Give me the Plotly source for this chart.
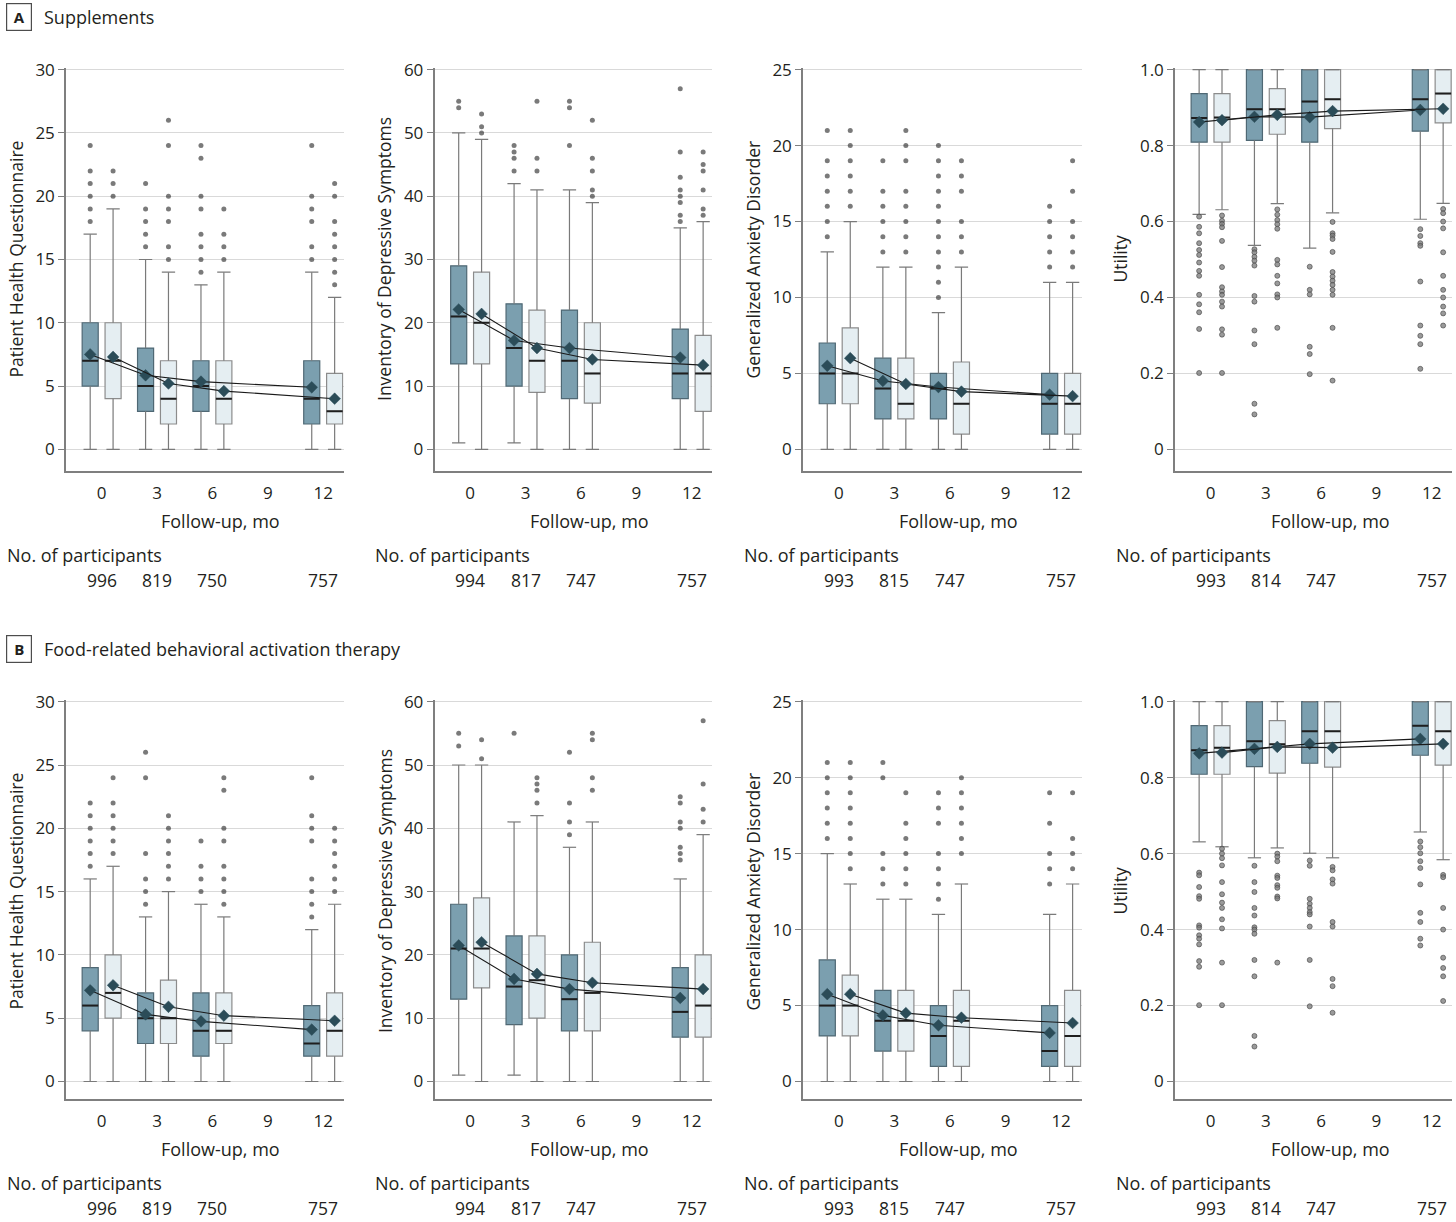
import plotly.graph_objects as go

W, H = 1456, 1222
FONT = "Open Sans"
TXT = "#231f20"

months = [0, 3, 6, 12]
xtick_vals = [0, 3, 6, 9, 12]
row_letters = ["A", "B"]
row_titles = ["Supplements", "Food-related behavioral activation therapy"]
y_titles = ["Patient Health Questionnaire", "Inventory of Depressive Symptoms",
            "Generalized Anxiety Disorder", "Utility"]
y_max = [30, 60, 25, 1.0]
y_dtick = [5, 10, 5, 0.2]
participants = [[996, 819, 750, 757], [994, 817, 747, 757],
                [993, 815, 747, 757], [993, 814, 747, 757]]

# ---------------- Row A: Supplements ----------------
# A1 Patient Health Questionnaire
A1_d_low = [0, 0, 0, 0]
A1_d_q1 = [5, 3, 3, 2]
A1_d_med = [7, 5, 5, 4]
A1_d_q3 = [10, 8, 7, 7]
A1_d_high = [17, 15, 13, 14]
A1_d_mean = [7.5, 5.85, 5.35, 4.9]
A1_d_out = [[18, 19, 20, 21, 22, 24], [16, 17, 18, 19, 21],
            [14, 15, 16, 17, 19, 20, 23, 24], [15, 16, 18, 19, 20, 24]]
A1_l_low = [0, 0, 0, 0]
A1_l_q1 = [4, 2, 2, 2]
A1_l_med = [7, 4, 4, 3]
A1_l_q3 = [10, 7, 7, 6]
A1_l_high = [19, 14, 14, 12]
A1_l_mean = [7.3, 5.2, 4.6, 4.0]
A1_l_out = [[20, 21, 22], [15, 16, 18, 19, 20, 24, 26],
            [15, 16, 17, 19], [13, 14, 15, 16, 17, 18, 20, 21]]

# A2 Inventory of Depressive Symptoms
A2_d_low = [1, 1, 0, 0]
A2_d_q1 = [13.5, 10, 8, 8]
A2_d_med = [21, 16, 14, 12]
A2_d_q3 = [29, 23, 22, 19]
A2_d_high = [50, 42, 41, 35]
A2_d_mean = [22.1, 17.2, 16.0, 14.5]
A2_d_out = [[54, 55], [44, 46, 47, 48], [48, 54, 55],
            [36, 37, 39, 40, 41, 43, 47, 57]]
A2_l_low = [0, 0, 0, 0]
A2_l_q1 = [13.5, 9, 7.3, 6]
A2_l_med = [20, 14, 12, 12]
A2_l_q3 = [28, 22, 20, 18]
A2_l_high = [49, 41, 39, 36]
A2_l_mean = [21.4, 16.0, 14.2, 13.3]
A2_l_out = [[50, 51, 53], [44, 46, 55], [40, 41, 44, 46, 52],
            [37, 38, 41, 44, 45, 47]]

# A3 Generalized Anxiety Disorder
A3_d_low = [0, 0, 0, 0]
A3_d_q1 = [3, 2, 2, 1]
A3_d_med = [5, 4, 4, 3]
A3_d_q3 = [7, 6, 5, 5]
A3_d_high = [13, 12, 9, 11]
A3_d_mean = [5.5, 4.5, 4.1, 3.6]
A3_d_out = [[14, 15, 16, 17, 18, 19, 21], [13, 14, 15, 16, 17, 19],
            [10, 11, 12, 13, 14, 15, 16, 17, 18, 19, 20], [12, 13, 14, 15, 16]]
A3_l_low = [0, 0, 0, 0]
A3_l_q1 = [3, 2, 1, 1]
A3_l_med = [5, 3, 3, 3]
A3_l_q3 = [8, 6, 5.75, 5]
A3_l_high = [15, 12, 12, 11]
A3_l_mean = [6.0, 4.3, 3.8, 3.5]
A3_l_out = [[16, 17, 18, 19, 20, 21], [13, 14, 15, 16, 17, 19, 20, 21],
            [13, 14, 15, 17, 18, 19], [12, 13, 14, 15, 17, 19]]

# A4 Utility
A4_d_low = [0.619, 0.537, 0.530, 0.606]
A4_d_q1 = [0.809, 0.814, 0.809, 0.838]
A4_d_med = [0.873, 0.896, 0.916, 0.922]
A4_d_q3 = [0.937, 1.0, 1.0, 1.0]
A4_d_high = [1.0, 1.0, 1.0, 1.0]
A4_d_mean = [0.862, 0.876, 0.875, 0.894]
A4_d_out = [[0.613, 0.586, 0.569, 0.543, 0.525, 0.512, 0.492, 0.47, 0.457, 0.407,
             0.382, 0.361, 0.317, 0.201],
            [0.527, 0.519, 0.507, 0.497, 0.484, 0.404, 0.389, 0.313, 0.277, 0.12, 0.092],
            [0.481, 0.42, 0.408, 0.27, 0.251, 0.198],
            [0.58, 0.562, 0.543, 0.536, 0.442, 0.326, 0.299, 0.277, 0.212]]
A4_l_low = [0.631, 0.647, 0.623, 0.648]
A4_l_q1 = [0.809, 0.83, 0.845, 0.86]
A4_l_med = [0.874, 0.896, 0.922, 0.937]
A4_l_q3 = [0.937, 0.95, 1.0, 1.0]
A4_l_high = [1.0, 1.0, 1.0, 1.0]
A4_l_mean = [0.867, 0.881, 0.891, 0.897]
A4_l_out = [[0.616, 0.602, 0.594, 0.585, 0.549, 0.48, 0.427, 0.416, 0.407, 0.389,
             0.376, 0.316, 0.302, 0.201],
            [0.632, 0.618, 0.604, 0.593, 0.581, 0.499, 0.487, 0.457, 0.437, 0.408,
             0.4, 0.32],
            [0.599, 0.569, 0.563, 0.554, 0.52, 0.467, 0.455, 0.444, 0.433, 0.42,
             0.407, 0.32, 0.181],
            [0.633, 0.622, 0.6, 0.582, 0.519, 0.457, 0.42, 0.4, 0.376, 0.358, 0.326]]

# ---------------- Row B: Food-related behavioral activation therapy ----------------
B1_d_low = [0, 0, 0, 0]
B1_d_q1 = [4, 3, 2, 2]
B1_d_med = [6, 5, 4, 3]
B1_d_q3 = [9, 7, 7, 6]
B1_d_high = [16, 13, 14, 12]
B1_d_mean = [7.2, 5.3, 4.75, 4.1]
B1_d_out = [[17, 18, 19, 20, 21, 22], [14, 15, 16, 18, 24, 26],
            [15, 16, 17, 19], [13, 14, 15, 16, 19, 20, 21, 24]]
B1_l_low = [0, 0, 0, 0]
B1_l_q1 = [5, 3, 3, 2]
B1_l_med = [7, 5, 4, 4]
B1_l_q3 = [10, 8, 7, 7]
B1_l_high = [17, 15, 13, 14]
B1_l_mean = [7.6, 5.9, 5.2, 4.8]
B1_l_out = [[18, 19, 20, 21, 22, 24], [16, 17, 18, 19, 20, 21],
            [14, 15, 16, 17, 19, 20, 23, 24], [15, 16, 17, 18, 19, 20]]

B2_d_low = [1, 1, 0, 0]
B2_d_q1 = [13, 9, 8, 7]
B2_d_med = [21, 15, 13, 11]
B2_d_q3 = [28, 23, 20, 18]
B2_d_high = [50, 41, 37, 32]
B2_d_mean = [21.5, 16.2, 14.6, 13.2]
B2_d_out = [[53, 55], [55], [39, 41, 44, 52], [35, 36, 37, 40, 41, 44, 45]]
B2_l_low = [0, 0, 0, 0]
B2_l_q1 = [14.8, 10, 8, 7]
B2_l_med = [21, 16, 14, 12]
B2_l_q3 = [29, 23, 22, 20]
B2_l_high = [50, 42, 41, 39]
B2_l_mean = [22.0, 17.0, 15.6, 14.6]
B2_l_out = [[51, 54], [44, 46, 47, 48], [46, 48, 54, 55], [41, 43, 47, 57]]

B3_d_low = [0, 0, 0, 0]
B3_d_q1 = [3, 2, 1, 1]
B3_d_med = [5, 4, 3, 2]
B3_d_q3 = [8, 6, 5, 5]
B3_d_high = [15, 12, 11, 11]
B3_d_mean = [5.75, 4.35, 3.7, 3.2]
B3_d_out = [[16, 17, 18, 19, 20, 21], [13, 14, 15, 20, 21],
            [12, 13, 14, 15, 17, 18, 19], [13, 14, 15, 17, 19]]
B3_l_low = [0, 0, 0, 0]
B3_l_q1 = [3, 2, 1, 1]
B3_l_med = [5, 4, 4, 3]
B3_l_q3 = [7, 6, 6, 6]
B3_l_high = [13, 12, 13, 13]
B3_l_mean = [5.75, 4.5, 4.2, 3.85]
B3_l_out = [[14, 15, 16, 17, 18, 19, 20, 21], [13, 14, 15, 16, 17, 19],
            [15, 16, 17, 18, 19, 20], [14, 15, 16, 19]]

B4_d_low = [0.631, 0.589, 0.601, 0.657]
B4_d_q1 = [0.809, 0.829, 0.838, 0.859]
B4_d_med = [0.872, 0.896, 0.922, 0.937]
B4_d_q3 = [0.937, 1.0, 1.0, 1.0]
B4_d_high = [1.0, 1.0, 1.0, 1.0]
B4_d_mean = [0.864, 0.876, 0.889, 0.902]
B4_d_out = [[0.55, 0.543, 0.512, 0.488, 0.481, 0.411, 0.405, 0.385, 0.376, 0.361,
             0.317, 0.302, 0.201],
            [0.568, 0.525, 0.499, 0.457, 0.437, 0.406, 0.4, 0.389, 0.32, 0.277,
             0.12, 0.092],
            [0.582, 0.568, 0.481, 0.468, 0.457, 0.446, 0.44, 0.408, 0.32, 0.198],
            [0.632, 0.617, 0.601, 0.58, 0.562, 0.519, 0.444, 0.42, 0.376, 0.358]]
B4_l_low = [0.618, 0.615, 0.589, 0.584]
B4_l_q1 = [0.809, 0.812, 0.828, 0.833]
B4_l_med = [0.879, 0.888, 0.922, 0.922]
B4_l_q3 = [0.937, 0.95, 1.0, 1.0]
B4_l_high = [1.0, 1.0, 1.0, 1.0]
B4_l_mean = [0.866, 0.881, 0.879, 0.889]
B4_l_out = [[0.613, 0.6, 0.588, 0.569, 0.525, 0.493, 0.471, 0.457, 0.427, 0.403,
             0.313, 0.201],
            [0.6, 0.592, 0.58, 0.542, 0.536, 0.517, 0.51, 0.487, 0.482, 0.313],
            [0.565, 0.556, 0.532, 0.521, 0.42, 0.408, 0.27, 0.251, 0.181],
            [0.544, 0.538, 0.457, 0.4, 0.326, 0.299, 0.277, 0.212]]

panels = [
    [
        ((A1_d_low, A1_d_q1, A1_d_med, A1_d_q3, A1_d_high, A1_d_mean, A1_d_out),
         (A1_l_low, A1_l_q1, A1_l_med, A1_l_q3, A1_l_high, A1_l_mean, A1_l_out)),
        ((A2_d_low, A2_d_q1, A2_d_med, A2_d_q3, A2_d_high, A2_d_mean, A2_d_out),
         (A2_l_low, A2_l_q1, A2_l_med, A2_l_q3, A2_l_high, A2_l_mean, A2_l_out)),
        ((A3_d_low, A3_d_q1, A3_d_med, A3_d_q3, A3_d_high, A3_d_mean, A3_d_out),
         (A3_l_low, A3_l_q1, A3_l_med, A3_l_q3, A3_l_high, A3_l_mean, A3_l_out)),
        ((A4_d_low, A4_d_q1, A4_d_med, A4_d_q3, A4_d_high, A4_d_mean, A4_d_out),
         (A4_l_low, A4_l_q1, A4_l_med, A4_l_q3, A4_l_high, A4_l_mean, A4_l_out)),
    ],
    [
        ((B1_d_low, B1_d_q1, B1_d_med, B1_d_q3, B1_d_high, B1_d_mean, B1_d_out),
         (B1_l_low, B1_l_q1, B1_l_med, B1_l_q3, B1_l_high, B1_l_mean, B1_l_out)),
        ((B2_d_low, B2_d_q1, B2_d_med, B2_d_q3, B2_d_high, B2_d_mean, B2_d_out),
         (B2_l_low, B2_l_q1, B2_l_med, B2_l_q3, B2_l_high, B2_l_mean, B2_l_out)),
        ((B3_d_low, B3_d_q1, B3_d_med, B3_d_q3, B3_d_high, B3_d_mean, B3_d_out),
         (B3_l_low, B3_l_q1, B3_l_med, B3_l_q3, B3_l_high, B3_l_mean, B3_l_out)),
        ((B4_d_low, B4_d_q1, B4_d_med, B4_d_q3, B4_d_high, B4_d_mean, B4_d_out),
         (B4_l_low, B4_l_q1, B4_l_med, B4_l_q3, B4_l_high, B4_l_mean, B4_l_out)),
    ],
]

# ---------------- layout geometry (pixels) ----------------
col_left = [66, 434.5, 803, 1175]
col_right = [343.5, 712, 1081.5, 1452]
row_top = [69.7, 701.7]      # pixel of top gridline
row_zero = [449.3, 1081.5]   # pixel of y = 0
row_bottom = [471.3, 1098.7]  # pixel of x-axis line
X_RANGE = [-1.93, 13.1]
OFFSET = 0.62
BOX_W = 0.87
CAP_HALF = 0.36

styles = [
    dict(fill="#7b9faf", line="#4f6874"),
    dict(fill="#e5eef2", line="#8c8c8c"),
]
WHISK = "#7a7a7a"
MED = "#1e1e1e"
MEAN_C = "#2b4c58"


def px_x(p):
    return p / W


def px_y(p):
    return 1 - p / H


fig = go.Figure()
annotations = []
layout_axes = {}

idx = 0
for r in range(2):
    for c in range(4):
        idx += 1
        xa = "x" if idx == 1 else f"x{idx}"
        ya = "y" if idx == 1 else f"y{idx}"
        xname = "xaxis" if idx == 1 else f"xaxis{idx}"
        yname = "yaxis" if idx == 1 else f"yaxis{idx}"
        ymx = y_max[c]
        ppu = (row_zero[r] - row_top[r]) / ymx
        pad_px = 2.0
        y_lo = -(row_bottom[r] - row_zero[r]) / ppu
        y_hi = ymx + pad_px / ppu

        for g, (low, q1, med, q3, high, mean, out) in enumerate(panels[r][c]):
            sign = -1 if g == 0 else 1
            pos = [m + sign * OFFSET for m in months]
            st = styles[g]
            fig.add_trace(go.Box(
                x=pos, q1=q1, median=med, q3=q3, lowerfence=q1, upperfence=q3,
                width=BOX_W, fillcolor=st["fill"],
                line=dict(color=st["line"], width=1.2),
                boxpoints=False, showlegend=False, hoverinfo="skip",
                xaxis=xa, yaxis=ya))
            # whiskers and caps
            wx, wy = [], []
            for p, lo, a, b, hi in zip(pos, low, q1, q3, high):
                wx += [p, p, None, p, p, None,
                       p - CAP_HALF, p + CAP_HALF, None, p - CAP_HALF, p + CAP_HALF, None]
                wy += [b, hi, None, a, lo, None, hi, hi, None, lo, lo, None]
            fig.add_trace(go.Scatter(
                x=wx, y=wy, mode="lines", line=dict(color=WHISK, width=1.2),
                showlegend=False, hoverinfo="skip", xaxis=xa, yaxis=ya, cliponaxis=False))
            # medians
            mx, my = [], []
            for p, m in zip(pos, med):
                mx += [p - BOX_W / 2, p + BOX_W / 2, None]
                my += [m, m, None]
            fig.add_trace(go.Scatter(
                x=mx, y=my, mode="lines", line=dict(color=MED, width=2),
                showlegend=False, hoverinfo="skip", xaxis=xa, yaxis=ya))
            # outliers
            ox, oy = [], []
            for p, vals in zip(pos, out):
                ox += [p] * len(vals)
                oy += list(vals)
            if c == 3:
                mk = dict(size=5, color="rgba(120,120,120,0.75)",
                          line=dict(color="rgba(70,70,70,0.8)", width=0.8))
            else:
                mk = dict(size=5, color="rgba(50,50,50,0.65)", line=dict(width=0))
            fig.add_trace(go.Scatter(
                x=ox, y=oy, mode="markers", marker=mk,
                showlegend=False, hoverinfo="skip", xaxis=xa, yaxis=ya))
        # mean lines (drawn last, on top)
        for g, grp in enumerate(panels[r][c]):
            sign = -1 if g == 0 else 1
            pos = [m + sign * OFFSET for m in months]
            fig.add_trace(go.Scatter(
                x=pos, y=grp[5], mode="lines+markers",
                line=dict(color="#1a1a1a", width=1.1),
                marker=dict(symbol="diamond", size=9, color=MEAN_C,
                            line=dict(color=MEAN_C, width=0.5)),
                showlegend=False, hoverinfo="skip", xaxis=xa, yaxis=ya))

        xdom = [px_x(col_left[c]), px_x(col_right[c])]
        ydom = [px_y(row_bottom[r]), px_y(row_top[r] - pad_px)]
        layout_axes[xname] = dict(
            domain=xdom, anchor=ya, range=X_RANGE, tickvals=xtick_vals,
            ticktext=[str(v) for v in xtick_vals],
            showline=True, linecolor="#7f7f7f", linewidth=1.5,
            ticks="outside", ticklen=6, tickcolor="rgba(0,0,0,0)",
            showgrid=False, zeroline=False, automargin=False,
            tickfont=dict(family=FONT, size=17, color=TXT))
        if c == 3:
            tv = [0, 0.2, 0.4, 0.6, 0.8, 1.0]
            tt = ["0", "0.2", "0.4", "0.6", "0.8", "1.0"]
        else:
            n = int(round(ymx / y_dtick[c]))
            tv = [k * y_dtick[c] for k in range(n + 1)]
            tt = [str(v) for v in tv]
        layout_axes[yname] = dict(
            domain=ydom, anchor=xa, range=[y_lo, y_hi], tickvals=tv, ticktext=tt,
            showline=True, linecolor="#7f7f7f", linewidth=1.5,
            ticks="outside", ticklen=6, tickcolor="#7f7f7f", tickwidth=1.2,
            showgrid=True, gridcolor="#d9d9d9", gridwidth=1.2, zeroline=False,
            automargin=False,
            tickfont=dict(family=FONT, size=17, color=TXT))

        # y title
        ycenter = (row_top[r] + row_zero[r]) / 2
        yoff = 55 if c == 3 else 50
        annotations.append(dict(
            text=y_titles[c], x=px_x(col_left[c] - yoff), y=px_y(ycenter),
            xref="paper", yref="paper", textangle=-90, showarrow=False,
            xanchor="center", yanchor="middle",
            font=dict(family=FONT, size=17.5, color=TXT)))
        # x title
        annotations.append(dict(
            text="Follow-up, mo", x=px_x(col_left[c] + 155), y=px_y(row_bottom[r] + 50),
            xref="paper", yref="paper", showarrow=False,
            xanchor="center", yanchor="middle",
            font=dict(family=FONT, size=18, color=TXT)))
        # participants
        annotations.append(dict(
            text="No. of participants", x=px_x(col_left[c] - 61), y=px_y(row_bottom[r] + 84),
            xref="paper", yref="paper", showarrow=False,
            xanchor="left", yanchor="middle",
            font=dict(family=FONT, size=18, color=TXT)))
        for m, n in zip(months, participants[c]):
            annotations.append(dict(
                text=str(n), x=m, y=px_y(row_bottom[r] + 109),
                xref=xa, yref="paper", showarrow=False,
                xanchor="center", yanchor="middle",
                font=dict(family=FONT, size=17.5, color=TXT)))

# row headers
row_head_y = [17, 649]
for r in range(2):
    annotations.append(dict(
        text=f"<b>{row_letters[r]}</b>", x=px_x(18.5), y=px_y(row_head_y[r]),
        xref="paper", yref="paper", showarrow=False, xanchor="center", yanchor="middle",
        width=22, height=24, bordercolor="#4d4d4d", borderwidth=1.2, borderpad=1,
        font=dict(family=FONT, size=15, color=TXT)))
    annotations.append(dict(
        text=row_titles[r], x=px_x(42), y=px_y(row_head_y[r]),
        xref="paper", yref="paper", showarrow=False, xanchor="left", yanchor="middle",
        font=dict(family=FONT, size=18, color=TXT)))

fig.update_layout(
    width=W, height=H, autosize=False,
    margin=dict(l=0, r=0, t=0, b=0, pad=0, autoexpand=False),
    paper_bgcolor="white", plot_bgcolor="white",
    showlegend=False, annotations=annotations,
    font=dict(family=FONT, color=TXT),
    **layout_axes)

POST = ("document.documentElement.style.margin='0';"
        "document.body.style.margin='0';document.body.style.padding='0';"
        "document.body.style.overflow='hidden';"
        "var gd=document.getElementById('{plot_id}');"
        "gd.style.position='absolute';gd.style.left='0px';gd.style.top='0px';")

fig.write_html("out.html", post_script=POST,
               config={"displayModeBar": False, "responsive": False})
